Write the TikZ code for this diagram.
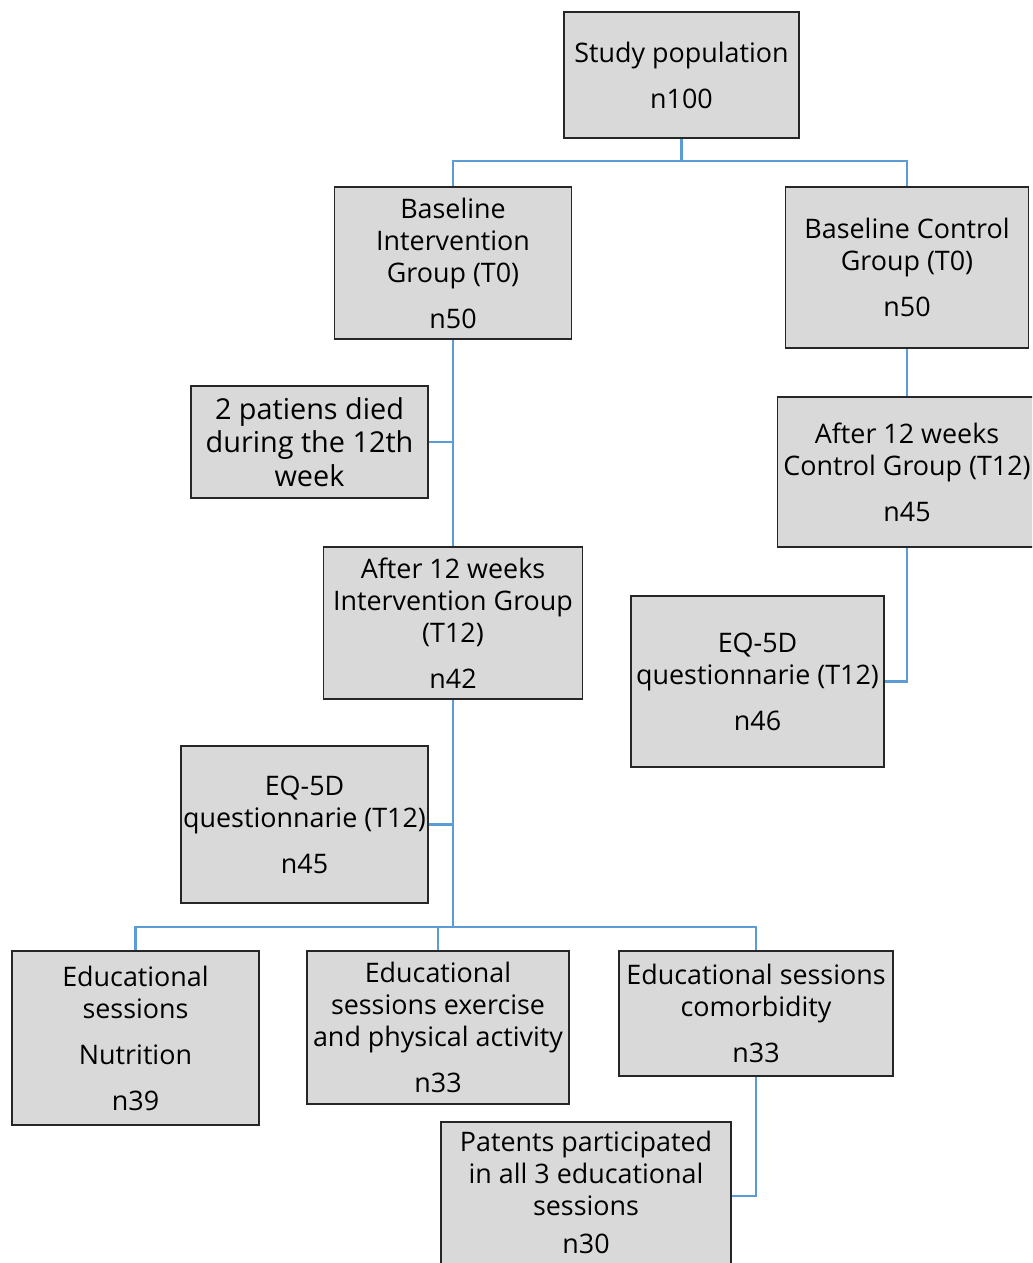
\documentclass[tikz,border=0pt]{standalone}
\usepackage{fontspec}
\setmainfont{Open Sans}
\usepackage{tikz}
\usetikzlibrary{positioning,calc}
\definecolor{cboxfill}{rgb}{0.85,0.85,0.85}
\definecolor{cboxline}{rgb}{0.15,0.15,0.15}
\definecolor{clink}{rgb}{0.36,0.61,0.84}

\begin{document}
\begin{tikzpicture}[x=0.02cm, y=-0.02cm,
    box/.style={draw=cboxline, fill=cboxfill, line width=1pt, align=center,
      inner sep=0pt, font=\fontsize{15.3}{18.2}\selectfont},
    link/.style={draw=clink, line width=1.3pt}]
  \useasboundingbox (0,0) rectangle (1032,1263);
  \clip (0,0) rectangle (1032,1263);

  % top and baseline
  \node[box, minimum width=4.70cm, minimum height=2.52cm] (pop) at (681.5,75)
    {Study population\\[2.8mm]n100};
  \node[box, minimum width=4.74cm, minimum height=3.04cm] (basei) at (453,263)
    {Baseline\\Intervention\\Group (T0)\\[2.8mm]n50};
  \node[box, minimum width=4.86cm, minimum height=3.22cm] (basec) at (907,267.5)
    {Baseline Control\\Group (T0)\\[2.8mm]n50};

  % after 12 weeks
  \node[box, minimum width=4.74cm, minimum height=2.24cm,
    font=\fontsize{16.4}{19.2}\selectfont] (died) at (309.5,442)
    {2 patiens died\\during the 12th\\week};
  \node[box, minimum width=5.18cm, minimum height=3.00cm] (afterc) at (907,472)
    {After 12 weeks\\Control Group (T12)\\[2.8mm]n45};
  \node[box, minimum width=5.18cm, minimum height=3.04cm] (afteri) at (453,623)
    {After 12 weeks\\Intervention Group\\(T12)\\[2.8mm]n42};
  \node[box, minimum width=5.06cm, minimum height=3.42cm] (eqc) at (757.5,681.5)
    {EQ-5D\\questionnarie (T12)\\[2.8mm]n46};
  \node[box, minimum width=4.94cm, minimum height=3.14cm] (eqi) at (304.5,824.5)
    {EQ-5D\\questionnarie (T12)\\[2.8mm]n45};

  % educational sessions
  \node[box, minimum width=4.94cm, minimum height=3.48cm] (edunut) at (135.5,1038)
    {Educational\\sessions\\[2.8mm]Nutrition\\[2.8mm]n39};
  \node[box, minimum width=5.24cm, minimum height=3.06cm] (eduex) at (438,1027.5)
    {Educational\\sessions exercise\\and physical activity\\[2.8mm]n33};
  \node[box, minimum width=5.48cm, minimum height=2.50cm] (educom) at (756,1013.5)
    {Educational sessions\\comorbidity\\[2.8mm]n33};
  % runs off the bottom edge
  \node[box, minimum width=5.80cm, minimum height=3.12cm] (allthree) at (586,1200)
    {Patents participated\\in all 3 educational\\sessions\\[1.2mm]n30\\[-3.4mm]\mbox{}};

  \coordinate (split1) at (681.5,161);
  \coordinate (split2) at (453,927);
  \coordinate (allin) at ($(allthree.east)+(0,-4)$);

  \draw[link] (pop.south) -- (split1);
  \draw[link] (basei.north) |- (split1) -| (basec.north);
  \draw[link] (basei.south) -- (afteri.north);
  \draw[link] (died.east) -- (died.east -| basei.south);
  \draw[link] (basec.south) -- (afterc.north);
  \draw[link] (afterc.south) |- (eqc.east);
  \draw[link] (afteri.south) -- (split2);
  \draw[link] (eqi.east) -- (eqi.east -| afteri.south);
  \draw[link] (edunut.north) |- (split2) -| (educom.north);
  \draw[link] (eduex.north) -- (eduex.north |- split2);
  \draw[link] (educom.south) |- (allin);
\end{tikzpicture}
\end{document}
